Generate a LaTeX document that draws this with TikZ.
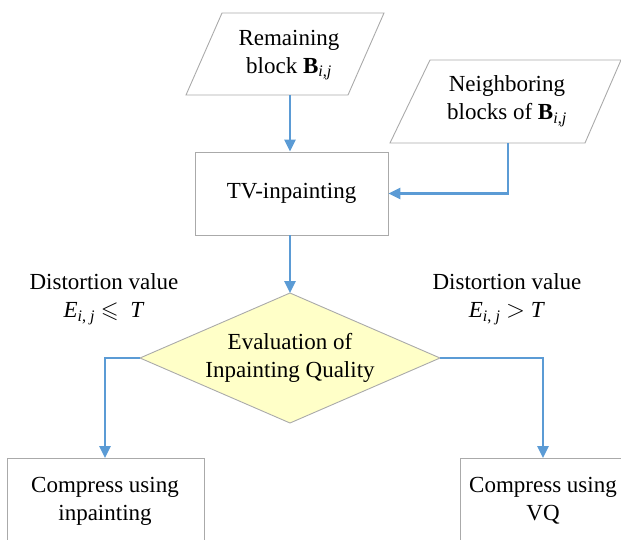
\documentclass[tikz,border=0pt]{standalone}
\usepackage{amssymb}
\usepackage{fontspec}
\setmainfont{Liberation Serif}
\usetikzlibrary{arrows.meta}
\definecolor{flowblue}{RGB}{91,155,213}
\definecolor{edgegray}{RGB}{170,170,170}
\definecolor{decfill}{RGB}{255,255,200}
\tikzset{
  shapeline/.style={draw=edgegray, line width=0.9pt},
  boxnode/.style={shapeline, rectangle, inner sep=0pt, align=center, fill=white},
  label/.style={align=center, inner sep=0pt},
  flow/.style={draw=flowblue, line width=2.6pt, -{Triangle[length=12pt,width=11pt]}},
}
\begin{document}
\begin{tikzpicture}[x=1pt,y=-1pt,font=\fontsize{23}{28}\selectfont]
\useasboundingbox (0,0) rectangle (621,539);
\clip (0,0) rectangle (621,539);

% input parallelograms
\draw[shapeline] (222,13) -- (384,13) -- (348,95) -- (186,95) -- cycle;
\node[label] (remain) at (289,55) {Remaining\\block \textbf{B}\textsubscript{\textit{i},\textit{j}}};
\coordinate (remainout) at (290,95);

\draw[shapeline] (430,60) -- (621,60) -- (585,143) -- (390,143) -- cycle;
\node[label] (neigh) at (507,101) {Neighboring\\blocks of \textbf{B}\textsubscript{\textit{i},\textit{j}}};
\coordinate (neighout) at (508,143);

% TV-inpainting step
\node[boxnode, minimum width=193pt, minimum height=83pt] (tv) at (291.5,193.5) {TV-inpainting};

% decision
\coordinate (dtop) at (290,293);
\coordinate (dleft) at (140,358);
\coordinate (dright) at (440,358);
\coordinate (dbot) at (290,423);
\draw[shapeline, fill=decfill] (dtop) -- (dright) -- (dbot) -- (dleft) -- cycle;
\node[label] (eval) at (290,358) {Evaluation of\\Inpainting Quality};

% outcomes
\node[boxnode, minimum width=197pt, minimum height=86pt, anchor=north west] (inp) at (7,458) {};
\node[label] (inptext) at (105,501) {Compress using\\inpainting};
\node[boxnode, minimum width=170pt, minimum height=86pt, anchor=north west] (vq) at (460,458) {};
\node[label] (vqtext) at (543,501) {Compress using\\VQ};

% condition labels
\node[label] (condl) at (104,299) {Distortion value\\\textit{E}\textsubscript{\textit{i}, \textit{j}} $\leqslant$\ \ \textit{T}};
\node[label] (condr) at (507,299) {Distortion value\\\textit{E}\textsubscript{\textit{i}, \textit{j}} $>$ \textit{T}};

% connectors
\draw[flow] (remainout) -- (tv.north -| remainout);
\draw[flow] (neighout) |- (tv.east);
\draw[flow] (tv.south -| dtop) -- (dtop);
\draw[flow] (dleft) -| (inp.north -| inptext);
\draw[flow] (dright) -| (vq.north -| vqtext);
\end{tikzpicture}
\end{document}
